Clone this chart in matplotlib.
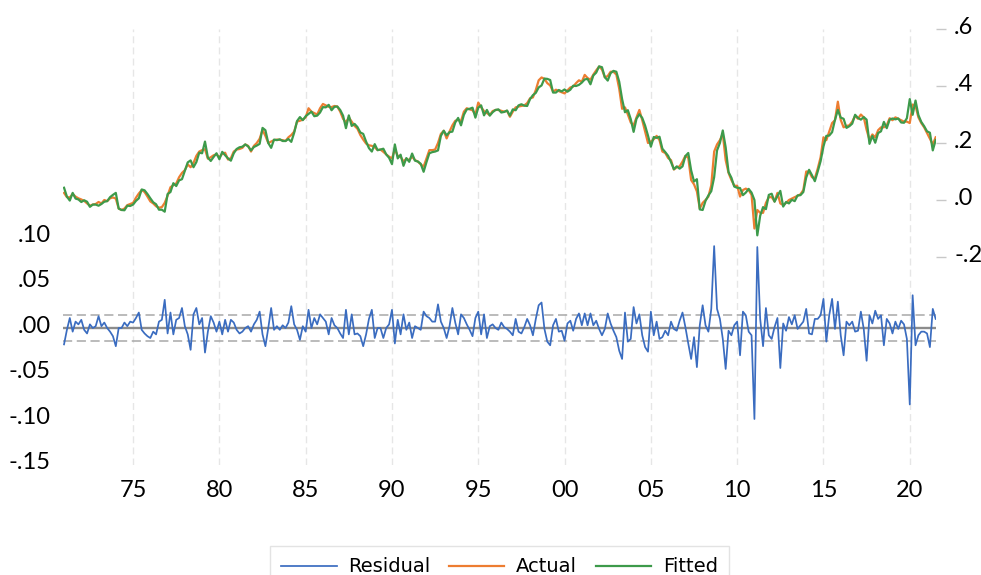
import numpy as np
import matplotlib
matplotlib.use('Agg')
import matplotlib.pyplot as plt
import matplotlib.transforms as mtransforms

# bimonthly observations from 1971 to mid 2021
start_year = 1971
obs_per_year = 6

residual = [
    -0.018, -0.002, 0.011, -0.004, 0.007, 0.004, 0.009, -0.002, -0.006, 0.004, 0.000, 0.002,
    0.013, 0.002, 0.006, 0.000, -0.004, -0.009, -0.020, 0.000, 0.000, 0.006, 0.002, 0.007,
    0.006, 0.011, 0.017, -0.002, -0.006, -0.009, -0.011, -0.004, -0.007, 0.007, 0.009, 0.031,
    -0.006, 0.017, -0.007, 0.009, 0.011, 0.022, 0.002, -0.007, -0.024, 0.015, 0.022, 0.004,
    0.011, -0.027, -0.004, 0.013, 0.006, -0.004, 0.007, -0.007, 0.009, -0.004, 0.009, 0.006,
    -0.002, -0.006, -0.004, 0.000, 0.002, -0.004, 0.004, 0.009, 0.018, -0.007, -0.020, 0.000,
    0.022, -0.002, 0.002, -0.002, 0.003, 0.000, 0.006, 0.024, 0.004, -0.002, -0.013, 0.002,
    -0.004, 0.020, 0.000, 0.011, 0.004, 0.015, 0.011, 0.007, -0.007, 0.011, 0.003, 0.000,
    -0.006, -0.011, 0.020, -0.007, 0.015, -0.007, -0.006, -0.009, -0.020, -0.007, 0.010, 0.020,
    -0.011, 0.000, 0.000, -0.011, 0.000, 0.004, 0.020, -0.017, 0.009, -0.007, 0.015, -0.002,
    0.006, -0.011, 0.002, 0.000, -0.002, 0.018, 0.013, 0.011, 0.007, 0.007, 0.026, 0.007,
    0.000, -0.011, 0.002, 0.022, 0.006, -0.007, 0.015, 0.011, 0.004, -0.002, -0.009, 0.011,
    0.018, -0.007, 0.015, -0.011, 0.002, 0.004, 0.000, -0.002, 0.006, 0.001, -0.001, -0.004,
    -0.008, 0.010, -0.004, -0.006, 0.001, 0.010, 0.003, -0.008, 0.010, 0.025, 0.028, -0.001,
    -0.015, -0.019, 0.003, 0.010, -0.004, -0.003, -0.014, 0.005, 0.008, -0.003, 0.010, 0.016,
    0.003, 0.016, 0.003, 0.016, 0.003, 0.008, -0.001, -0.008, -0.001, 0.016, 0.005, -0.003,
    -0.010, -0.025, -0.034, 0.017, -0.015, -0.012, 0.023, 0.005, 0.015, -0.008, -0.021, -0.026,
    0.018, -0.008, 0.007, -0.012, -0.010, -0.003, -0.008, 0.007, -0.001, -0.003, 0.008, 0.017,
    0.001, -0.017, -0.034, -0.010, -0.043, 0.003, 0.025, 0.003, -0.004, 0.021, 0.090, 0.021,
    0.010, -0.012, -0.045, -0.003, -0.008, 0.003, 0.007, -0.030, 0.018, 0.014, -0.004, -0.008,
    -0.100, 0.089, 0.010, -0.020, 0.022, -0.008, -0.012, 0.001, 0.011, -0.044, 0.005, -0.003,
    0.012, 0.004, 0.014, -0.001, 0.003, 0.007, 0.021, -0.006, -0.007, 0.010, 0.010, 0.014,
    0.032, -0.015, 0.014, 0.032, -0.001, 0.029, -0.008, -0.030, 0.007, 0.003, 0.007, -0.004,
    -0.003, 0.018, -0.001, -0.036, 0.014, 0.005, 0.019, 0.010, 0.014, -0.019, 0.010, 0.005,
    -0.006, 0.007, -0.001, 0.008, 0.004, -0.012, -0.084, 0.036, -0.019, -0.008, -0.004, -0.004,
    -0.006, -0.021, 0.021, 0.010,
]

actual = [
    0.025, 0.010, 0.009, 0.021, 0.012, 0.006, 0.002, -0.003, -0.012, -0.020, -0.016, -0.014,
    -0.007, -0.012, 0.000, -0.004, 0.006, 0.009, 0.005, -0.030, -0.035, -0.030, -0.018, -0.014,
    -0.010, 0.008, 0.023, 0.035, 0.028, 0.012, -0.005, -0.012, -0.022, -0.027, -0.025, -0.010,
    0.015, 0.045, 0.052, 0.058, 0.080, 0.095, 0.105, 0.125, 0.115, 0.130, 0.155, 0.170,
    0.175, 0.178, 0.145, 0.150, 0.157, 0.160, 0.150, 0.162, 0.166, 0.142, 0.147, 0.170,
    0.177, 0.179, 0.183, 0.195, 0.190, 0.170, 0.190, 0.200, 0.215, 0.246, 0.225, 0.200,
    0.205, 0.210, 0.212, 0.211, 0.210, 0.207, 0.220, 0.228, 0.240, 0.275, 0.278, 0.282,
    0.290, 0.322, 0.310, 0.305, 0.300, 0.322, 0.337, 0.332, 0.327, 0.326, 0.330, 0.328,
    0.310, 0.285, 0.272, 0.290, 0.275, 0.260, 0.250, 0.228, 0.212, 0.198, 0.192, 0.190,
    0.185, 0.175, 0.177, 0.169, 0.160, 0.152, 0.146, 0.178, 0.155, 0.152, 0.135, 0.145,
    0.140, 0.152, 0.140, 0.135, 0.125, 0.117, 0.146, 0.175, 0.175, 0.177, 0.200, 0.232,
    0.243, 0.216, 0.240, 0.262, 0.278, 0.281, 0.277, 0.310, 0.322, 0.318, 0.315, 0.300,
    0.342, 0.325, 0.312, 0.305, 0.298, 0.312, 0.316, 0.316, 0.313, 0.310, 0.313, 0.292,
    0.310, 0.325, 0.328, 0.330, 0.332, 0.340, 0.357, 0.360, 0.386, 0.420, 0.430, 0.425,
    0.410, 0.402, 0.380, 0.387, 0.382, 0.378, 0.374, 0.385, 0.395, 0.398, 0.410, 0.420,
    0.415, 0.439, 0.428, 0.422, 0.440, 0.455, 0.468, 0.458, 0.430, 0.435, 0.450, 0.450,
    0.440, 0.390, 0.320, 0.325, 0.300, 0.272, 0.262, 0.290, 0.316, 0.280, 0.240, 0.200,
    0.205, 0.213, 0.225, 0.210, 0.170, 0.165, 0.147, 0.140, 0.107, 0.115, 0.118, 0.135,
    0.155, 0.148, 0.070, 0.055, 0.030, -0.030, -0.010, 0.000, 0.012, 0.052, 0.170, 0.195,
    0.210, 0.232, 0.140, 0.095, 0.070, 0.050, 0.050, 0.012, 0.035, 0.040, 0.035, 0.018,
    -0.100, -0.035, -0.045, -0.045, -0.010, 0.010, 0.010, -0.005, 0.025, -0.012, -0.018, -0.010,
    0.000, 0.005, 0.010, 0.015, 0.020, 0.035, 0.100, 0.100, 0.080, 0.076, 0.110, 0.150,
    0.220, 0.210, 0.240, 0.270, 0.280, 0.345, 0.281, 0.255, 0.260, 0.262, 0.275, 0.295,
    0.285, 0.300, 0.290, 0.246, 0.211, 0.230, 0.220, 0.245, 0.255, 0.255, 0.262, 0.287,
    0.280, 0.290, 0.285, 0.280, 0.275, 0.275, 0.270, 0.335, 0.330, 0.290, 0.270, 0.255,
    0.235, 0.215, 0.195, 0.220,
]

se_band = 0.0143  # S.E. of regression, drawn as dashed band

x_ticks = [1975, 1980, 1985, 1990, 1995, 2000, 2005, 2010, 2015, 2020]
x_labels = ['75', '80', '85', '90', '95', '00', '05', '10', '15', '20']
left_ticks = [-0.15, -0.10, -0.05, 0.00, 0.05, 0.10]
left_labels = ['-.15', '-.10', '-.05', '.00', '.05', '.10']
right_ticks = [-0.2, 0.0, 0.2, 0.4, 0.6]
right_labels = ['-.2', '.0', '.2', '.4', '.6']

dates = start_year + np.arange(len(actual)) / obs_per_year
fitted = np.array(actual) - np.array(residual)

W, H = 981, 575
fig = plt.figure(figsize=(W / 100, H / 100), dpi=100)
ax = fig.add_axes([63 / W, 1 - 464.5 / H, 873 / W, 435.5 / H])
ax2 = ax.twinx()

ax.set_xlim(1970.94, 2021.52)
ax.set_ylim(-0.15, 0.3286)
ax2.set_ylim(-0.928, 0.6)

for t in x_ticks:
    ax.axvline(t, color='#e6e6e6', lw=1.0, ls=(0, (5, 3)), zorder=0)

ax.axhline(0, color='#8c8c8c', lw=1.7, zorder=1)
ax.axhline(se_band, color='#a8a8a8', lw=1.1, ls=(0, (6, 3)), zorder=1)
ax.axhline(-se_band, color='#a8a8a8', lw=1.1, ls=(0, (6, 3)), zorder=1)

l1, = ax.plot(dates, residual, color='#3a6cc0', lw=1.25, zorder=2, label='Residual')
l2, = ax2.plot(dates, actual, color='#ed7d31', lw=1.6, label='Actual')
l3, = ax2.plot(dates, fitted, color='#3d9a4a', lw=1.6, label='Fitted')

for a in (ax, ax2):
    for s in a.spines.values():
        s.set_visible(False)

tick_font = dict(family='Lato', size=17)

ax.set_xticks(x_ticks)
ax.set_xticklabels(x_labels, fontdict=tick_font)
ax.tick_params(axis='x', length=0, pad=11)

ax.set_yticks(left_ticks)
ax.set_yticklabels(left_labels, fontdict=tick_font)
ax.tick_params(axis='y', length=0, pad=9)

ax2.set_yticks(right_ticks)
ax2.set_yticklabels(right_labels, fontdict=tick_font)
ax2.tick_params(axis='y', length=7, width=1, color='#c8c8c8', pad=6)

# labels sit a few pixels above their tick positions
lift = mtransforms.ScaledTranslation(0, 4 / 100, fig.dpi_scale_trans)
for lab in ax.get_yticklabels() + ax2.get_yticklabels():
    lab.set_transform(lab.get_transform() + lift)

fig.legend(handles=[l1, l2, l3], loc='upper center',
           bbox_to_anchor=(499.5 / W, 1 - 536 / H), ncol=3,
           frameon=True, fancybox=False, edgecolor='#dddddd',
           prop=dict(family='DejaVu Sans', size=14),
           handlelength=2.85, handletextpad=0.6, columnspacing=0.95,
           borderpad=0.6)

fig.savefig('out.png', dpi=100, facecolor='white')
